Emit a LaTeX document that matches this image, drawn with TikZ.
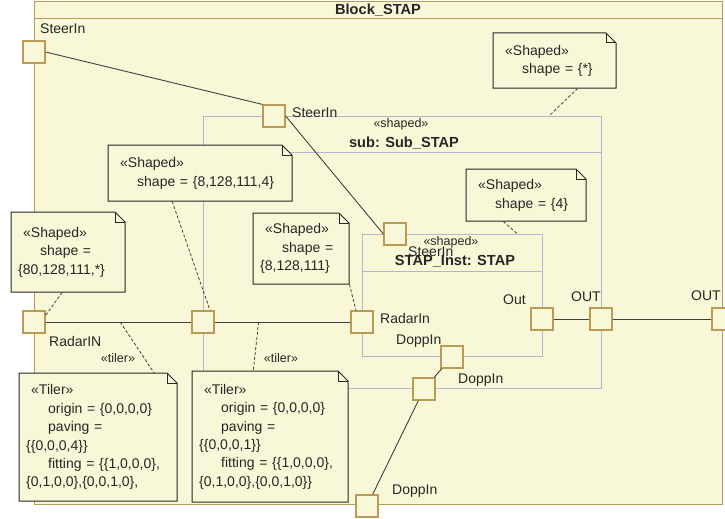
\documentclass[tikz,border=0pt]{standalone}
\usepackage{fontspec}
\setmainfont{Liberation Sans}
\usetikzlibrary{calc}

\definecolor{blockbg}{RGB}{248,248,216}
\definecolor{tan}{RGB}{186,154,84}
\definecolor{lav}{RGB}{182,180,206}
\definecolor{ink}{RGB}{64,64,64}

\tikzset{
  port/.style={draw=tan, fill=blockbg, line width=1.2pt, minimum size=22pt, inner sep=0pt},
  lbl/.style={font=\fontsize{14}{17}\selectfont, inner sep=0pt, text=black!85},
  stereo/.style={font=\fontsize{12.5}{15}\selectfont, inner sep=0pt, text=black!85},
  blocktitle/.style={font=\fontsize{14.6}{17}\selectfont\bfseries, inner sep=0pt, text=black!85},
  frame/.style={line width=1pt, minimum width=#1, anchor=north west, inner sep=0pt},
  wire/.style={draw=ink, line width=0.9pt},
  link/.style={draw=ink, dash pattern=on 3pt off 2pt, line width=0.8pt},
  notebox/.style={draw=black!85, fill=blockbg, line width=1pt},
  notetext/.style={font=\fontsize{14}{18.4}\selectfont, align=left, inner xsep=7pt, inner ysep=0pt, anchor=north west, text=black!85},
}

% 注释框：名字, 左上 (x,y), 右下 (x,y), 文字
\newcommand{\umlnote}[6]{%
  \filldraw[notebox] (#2,#3) -- (#4-10,#3) -- (#4,#3+10) -- (#4,#5) -- (#2,#5) -- cycle;
  \draw[notebox, fill=none] (#4-10,#3) -- (#4-10,#3+10) -- (#4,#3+10);
  \pgfmathsetmacro\notew{#4-#2}\pgfmathsetmacro\noteh{#5-#3}\pgfmathsetmacro\notetw{#4-#2-14}
  \node[notetext, minimum width=\notew pt, minimum height=\noteh pt, text width=\notetw pt] (#1) at (#2,#3) {#6};
}

\begin{document}
\begin{tikzpicture}[x=1pt, y=-1pt]
  \useasboundingbox[fill=white] (0,0) rectangle (725,519);
  % 外框 Block_STAP
  \node[frame=688pt, minimum height=503pt, draw=tan, fill=blockbg] (blk) at (34,1) {};
  \draw[tan, line width=1pt] (34,19) -- (722,19);
  \node[blocktitle] (blkT) at (378,10) {Block\_STAP};
  % sub: Sub_STAP
  \node[frame=398pt, minimum height=272pt, draw=lav] (sub) at (203,116) {};
  \draw[lav, line width=1pt] (203,152) -- (601,152);
  \node[stereo] (subS) at (401,124) {«shaped»};
  \node[blocktitle] (subT) at (404,143) {sub: Sub\_STAP};
  % STAP_Inst: STAP
  \node[frame=180pt, minimum height=122pt, draw=lav] (inst) at (362,234) {};
  \draw[lav, line width=1pt] (362,271) -- (542,271);
  \node[stereo] (instS) at (451,242) {«shaped»};
  \node[blocktitle] (instT) at (455,261) {STAP\_Inst: STAP};

  % 端口
  \foreach \n/\x/\y in {stOut/34/52, stSub/274/116, stInst/395/234,
      radOut/34/322, radSub/203/322, radInst/362/322,
      outInst/542/319, outSub/601/319, outOut/723/319,
      dpInst/452/357, dpSub/424/389, dpOut/367/506}{
    \node[port] (\n) at (\x,\y) {};
  }
  \foreach \n/\x/\y/\t in {stOutL/40/29/SteerIn, stSubL/292/113/SteerIn, stInstL/408/252/SteerIn,
      radOutL/49/341/RadarIN, radInstL/380/318/RadarIn,
      outInstL/503/300/Out, outSubL/571/297/OUT, outOutL/691/296/OUT,
      dpInstL/396/341/DoppIn, dpSubL/458/380/DoppIn, dpOutL/392/491/DoppIn}{
    \node[lbl, anchor=west] (\n) at (\x,\y) {\t};
  }

  % 连线
  \draw[wire] (stOut.east) -- (stSub.north west);
  \draw[wire] (stSub.east) -- (stInst.west);
  \draw[wire] (radOut) -- (radSub) -- (radInst);
  \draw[wire] (outInst) -- (outSub) -- (outOut);
  \draw[wire] (dpOut) -- (dpSub) -- (dpInst);

  % 注释
  \umlnote{shStar}{493}{33}{616}{88}{\hspace*{5pt}«Shaped»\\\hspace*{22pt}shape = \{*\}}
  \umlnote{shB}{108}{145}{292}{201}{\hspace*{5pt}«Shaped»\\\hspace*{22pt}shape = \{8,128,111,4\}}
  \umlnote{shA}{11}{212}{125}{292}{\hspace*{5pt}«Shaped»\\\hspace*{22pt}shape =\\\{80,128,111,*\}}
  \umlnote{shC}{253}{213}{349}{284}{\hspace*{5pt}«Shaped»\\\hspace*{22pt}shape =\\\{8,128,111\}}
  \umlnote{shD}{466}{169}{586}{221}{\hspace*{5pt}«Shaped»\\\hspace*{22pt}shape = \{4\}}
  \umlnote{tlA}{19}{373}{177}{501}{\hspace*{5pt}«Tiler»\\\hspace*{22pt}origin = \{0,0,0,0\}\\\hspace*{22pt}paving =\\\{\{0,0,0,4\}\}\\\hspace*{22pt}fitting = \{\{1,0,0,0\},\\\{0,1,0,0\},\{0,0,1,0\},}
  \umlnote{tlB}{192}{371}{348}{502}{\hspace*{5pt}«Tiler»\\\hspace*{22pt}origin = \{0,0,0,0\}\\\hspace*{22pt}paving =\\\{\{0,0,0,1\}\}\\\hspace*{22pt}fitting = \{\{1,0,0,0\},\\\{0,1,0,0\},\{0,0,1,0\}\}}

  \draw[link] ([xshift=23pt]shStar.south) -- ([xshift=-53pt]sub.north east);
  \draw[link] ([xshift=-28pt]shB.south) -- ([xshift=7pt]radSub.north);
  \draw[link] ([xshift=-6pt]shA.south) -- ([yshift=-5pt]radOut.north east);
  \draw[link] (shC.south east) -- ([xshift=-6pt]radInst.north);
  \draw[link] ([xshift=-23pt]shD.south) -- ([xshift=65pt]inst.north);
  \draw[link] ($(radOut)!0.51!(radSub)$) -- ([xshift=56pt]tlA.north);
  \draw[link] ($(radSub)!0.35!(radInst)$) -- ([xshift=-17pt]tlB.north);
  \node[stereo] (tlAS) at (118,358) {«tiler»};
  \node[stereo] (tlBS) at (281,358) {«tiler»};
\end{tikzpicture}
\end{document}
